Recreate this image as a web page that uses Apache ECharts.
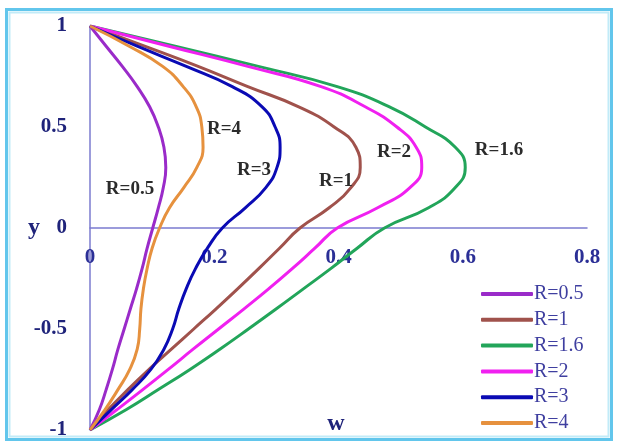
<!DOCTYPE html>
<html>
<head>
<meta charset="utf-8">
<script src="https://cdn.jsdelivr.net/npm/echarts@6/dist/echarts.min.js"></script>
<style>
  html, body { margin: 0; padding: 0; background: #ffffff; }
  #chart { width: 618px; height: 446px; }
</style>
</head>
<body>
<div id="chart"></div>
<script>
// Velocity profiles w(y) across the channel, one curve per R
const yLevels = [1, 0.9, 0.8, 0.7, 0.6, 0.5, 0.4, 0.3, 0.2, 0.1, 0,
                 -0.1, -0.2, -0.3, -0.4, -0.5, -0.6, -0.7, -0.8, -0.9, -1];

const wR05 = [0, 0.026, 0.052, 0.076, 0.096, 0.110, 0.119, 0.122, 0.118, 0.110, 0.101,
              0.092, 0.084, 0.075, 0.065, 0.055, 0.045, 0.036, 0.026, 0.015, 0];
const wR1  = [0, 0.088, 0.174, 0.254, 0.336, 0.393, 0.428, 0.435, 0.420, 0.385, 0.338,
              0.305, 0.272, 0.238, 0.203, 0.167, 0.131, 0.095, 0.061, 0.029, 0];
const wR16 = [0, 0.137, 0.271, 0.398, 0.482, 0.540, 0.588, 0.604, 0.588, 0.545, 0.474,
              0.430, 0.388, 0.344, 0.300, 0.255, 0.209, 0.161, 0.110, 0.058, 0];
const wR2  = [0, 0.127, 0.254, 0.372, 0.443, 0.494, 0.525, 0.534, 0.515, 0.463, 0.398,
              0.362, 0.326, 0.288, 0.248, 0.207, 0.166, 0.126, 0.085, 0.043, 0];
const wR3  = [0, 0.076, 0.155, 0.229, 0.277, 0.298, 0.306, 0.301, 0.283, 0.250, 0.213,
              0.189, 0.170, 0.155, 0.143, 0.133, 0.119, 0.098, 0.068, 0.034, 0];
const wR4  = [0, 0.063, 0.117, 0.150, 0.171, 0.180, 0.182, 0.172, 0.151, 0.128, 0.112,
              0.100, 0.092, 0.086, 0.082, 0.080, 0.076, 0.064, 0.045, 0.024, 0];

const seriesNames = ['R=0.5', 'R=1', 'R=1.6', 'R=2', 'R=3', 'R=4'];
const seriesW = [wR05, wR1, wR16, wR2, wR3, wR4];
const seriesColors = ['#9a2bc9', '#a0524c', '#22a55a', '#f020f0', '#0a0ab4', '#e6913e'];

const xTicks = { min: 0, max: 0.8, step: 0.2 };
const yTicks = { min: -1, max: 1, step: 0.5 };

const serif = '"Liberation Serif", "Times New Roman", serif';
const axisColor = '#7b7bcf';
const tickColor = '#1f237a';

// plot box (pixels)
const gridBox = { left: 90, right: 31, top: 26, bottom: 16 };
const plotHeight = 446 - gridBox.top - gridBox.bottom;

function pairs(ws) {
  return ws.map((w, i) => [w, yLevels[i]]);
}

const chart = echarts.init(document.getElementById('chart'), null, { renderer: 'canvas' });

// in-plot curve captions
const captions = [
  { text: 'R=0.5', x: 130, y: 189 },
  { text: 'R=4',   x: 224, y: 129 },
  { text: 'R=3',   x: 254, y: 170 },
  { text: 'R=1',   x: 336, y: 181 },
  { text: 'R=2',   x: 394, y: 152 },
  { text: 'R=1.6', x: 499, y: 150 }
];

chart.setOption({
  animation: false,
  backgroundColor: '#ffffff',
  grid: Object.assign({ containLabel: false, outerBoundsMode: 'none' }, gridBox),
  xAxis: {
    type: 'value',
    position: 'bottom',
    // horizontal axis drawn through y = 0 (middle of the plot box)
    offset: -plotHeight / 2,
    min: xTicks.min, max: xTicks.max, interval: xTicks.step,
    axisLine: { show: true, onZero: false, lineStyle: { color: axisColor, width: 1.5 } },
    axisTick: { show: false },
    splitLine: { show: false },
    axisLabel: {
      margin: 19,
      fontFamily: serif, fontSize: 21, fontWeight: 'bold', color: '#2b2f96',
      formatter: v => String(+v.toFixed(1))
    }
  },
  yAxis: {
    type: 'value',
    min: yTicks.min, max: yTicks.max, interval: yTicks.step,
    name: 'y',
    nameLocation: 'middle',
    nameRotate: 0,
    nameGap: 50,
    nameMoveOverlap: false,
    nameTextStyle: { fontFamily: serif, fontSize: 24, fontWeight: 'bold', color: tickColor },
    axisLine: { show: true, onZero: false, lineStyle: { color: axisColor, width: 1.5 } },
    axisTick: { show: false },
    splitLine: { show: false },
    axisLabel: {
      margin: 23,
      fontFamily: serif, fontSize: 21, fontWeight: 'bold', color: tickColor,
      formatter: v => String(+v.toFixed(1))
    }
  },
  legend: {
    orient: 'vertical',
    left: 481,
    top: 284,
    padding: 0,
    itemGap: 5.8,
    itemWidth: 52,
    itemHeight: 4,
    icon: 'roundRect',
    textStyle: { fontFamily: serif, fontSize: 20, lineHeight: 20, color: '#3f3fa0', padding: [0, 0, 0, -4] },
    data: seriesNames
  },
  series: seriesNames.map((name, i) => ({
    name: name,
    type: 'line',
    data: pairs(seriesW[i]),
    smooth: 0.5,
    showSymbol: false,
    symbol: 'none',
    lineStyle: { color: seriesColors[i], width: 3 },
    itemStyle: { color: seriesColors[i] },
    z: 3
  })),
  graphic: [
    {
      type: 'rect',
      shape: { x: 6.5, y: 9.5, width: 605, height: 430 },
      style: { fill: null, stroke: '#62c6ec', lineWidth: 3 },
      silent: true, z: 100
    },
    {
      type: 'rect',
      shape: { x: 9.5, y: 12.5, width: 599, height: 424 },
      style: { fill: null, stroke: '#c2ebf8', lineWidth: 2 },
      silent: true, z: 100
    },
    {
      type: 'text',
      x: 336, y: 424,
      style: {
        text: 'w', fontFamily: serif, fontSize: 24, fontWeight: 'bold',
        fill: tickColor, align: 'center', verticalAlign: 'middle'
      },
      z: 50
    }
  ].concat(captions.map(c => ({
    type: 'text',
    x: c.x, y: c.y,
    style: {
      text: c.text,
      fontFamily: serif, fontSize: 19, fontWeight: 'bold',
      fill: '#2b2b2b', align: 'center', verticalAlign: 'middle'
    },
    z: 50
  })))
});
</script>
</body>
</html>
